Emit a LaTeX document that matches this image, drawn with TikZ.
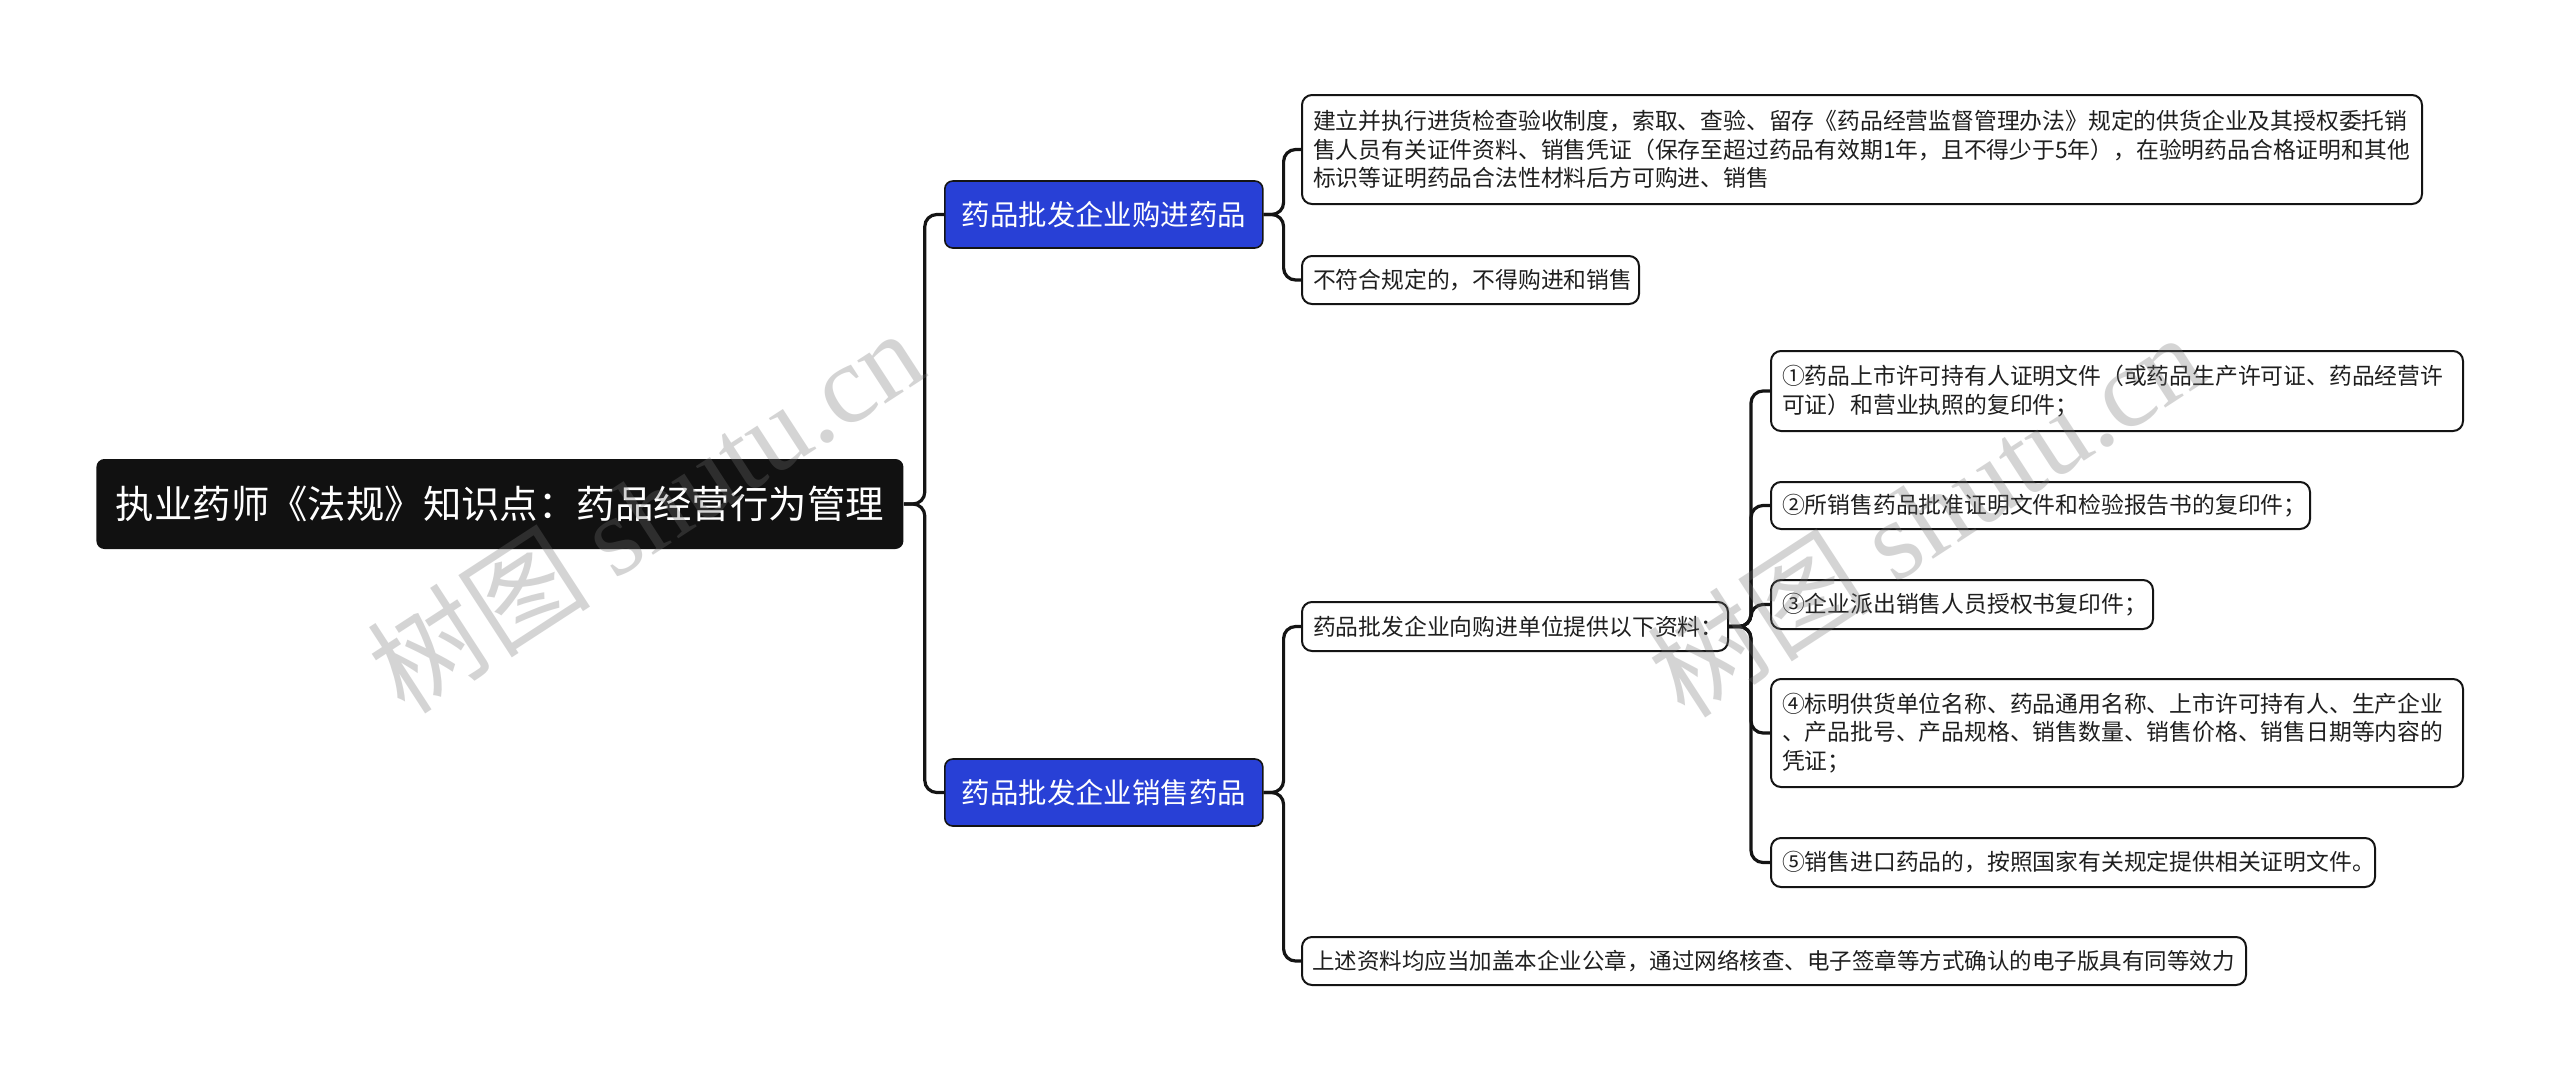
\documentclass[tikz,border=0pt]{standalone}
\usepackage{fontspec}
\setmainfont{Noto Sans CJK SC}
\newfontfamily\wmserif{Liberation Serif}
\usetikzlibrary{calc}
\definecolor{rootblack}{RGB}{17,17,17}
\definecolor{nodeblue}{RGB}{40,64,214}
\definecolor{linegray}{RGB}{20,20,20}
\tikzset{
  conn/.style={line width=1.6pt, draw=linegray, rounded corners=6pt},
  rootbox/.style={anchor=west, fill=rootblack, draw=none, rounded corners=4pt, text=white,
    font=\fontsize{19.2pt}{23pt}\selectfont, minimum width=403.5pt, minimum height=45pt, inner sep=0pt},
  bluebox/.style={anchor=west, fill=nodeblue, draw=linegray, line width=0.8pt, rounded corners=4pt, text=white,
    font=\fontsize{14.2pt}{17pt}\selectfont, minimum width=159pt, minimum height=33.5pt, inner sep=0pt},
  leaf/.style={anchor=west, fill=white, draw=linegray, line width=1pt, rounded corners=5pt, text=black!88,
    font=\fontsize{11.4pt}{14.3pt}\selectfont, align=left, inner xsep=5.5pt, inner ysep=2pt},
  wm/.style={text=black!55, opacity=0.3, font=\fontsize{56pt}{60pt}\selectfont, rotate=33}
}
\begin{document}
\begin{tikzpicture}[x=0.5pt,y=-0.5pt]
\useasboundingbox (0,0) rectangle (2560,1082);
\fill[white] (0,0) rectangle (2560,1082);

\node[rootbox] (root) at (96,504) {执业药师《法规》知识点：药品经营行为管理};

\node[bluebox] (b1) at (944,214.5) {药品批发企业购进药品};
\node[bluebox] (b2) at (944,792.5) {药品批发企业销售药品};

\node[leaf, text width=549pt, minimum height=54.5pt] (la) at (1301,149.5)
 {建立并执行进货检查验收制度，索取、查验、留存《药品经营监督管理办法》规定的供货企业及其授权委托销\\
  售人员有关证件资料、销售凭证（保存至超过药品有效期1年，且不得少于5年），在验明药品合格证明和其他\\
  标识等证明药品合法性材料后方可购进、销售};
\node[leaf, text width=157.5pt, minimum height=24pt] (lb) at (1301,280) {不符合规定的，不得购进和销售};

\node[leaf, text width=202pt, minimum height=24.5pt] (mid) at (1301,626.5) {药品批发企业向购进单位提供以下资料：};
\node[leaf, text width=462pt, inner xsep=5pt, minimum height=24pt, font=\fontsize{11.25pt}{14pt}\selectfont] (bot) at (1301,961) {上述资料均应当加盖本企业公章，通过网络核查、电子签章等方式确认的电子版具有同等效力};

\node[leaf, text width=335pt, minimum height=40pt] (i1) at (1770,391)
 {①药品上市许可持有人证明文件（或药品生产许可证、药品经营许\\可证）和营业执照的复印件；};
\node[leaf, text width=258.5pt, minimum height=23.5pt] (i2) at (1770,505.5) {②所销售药品批准证明文件和检验报告书的复印件；};
\node[leaf, text width=180pt, minimum height=24.5pt] (i3) at (1770,604.5) {③企业派出销售人员授权书复印件；};
\node[leaf, text width=335pt, minimum height=54pt] (i4) at (1770,733)
 {④标明供货单位名称、药品通用名称、上市许可持有人、生产企业\\、产品批号、产品规格、销售数量、销售价格、销售日期等内容的\\凭证；};
\node[leaf, text width=291pt, minimum height=24.5pt] (i5) at (1770,862.5) {⑤销售进口药品的，按照国家有关规定提供相关证明文件。};

\foreach \c in {b1,b2} \draw[conn] (root.east) -- ++(21,0) |- (\c.west);
\foreach \c in {la,lb} \draw[conn] (b1.east) -- ++(20,0) |- (\c.west);
\foreach \c in {mid,bot} \draw[conn] (b2.east) -- ++(20,0) |- (\c.west);
\foreach \c in {i1,i2,i3,i4,i5} \draw[conn] (mid.east) -- ++(22,0) |- (\c.west);

\node[wm] (wm1) at (645,510) {树图 {\wmserif shutu.cn}};
\node[wm] (wm2) at (1925,514) {树图 {\wmserif shutu.cn}};
\end{tikzpicture}
\end{document}
